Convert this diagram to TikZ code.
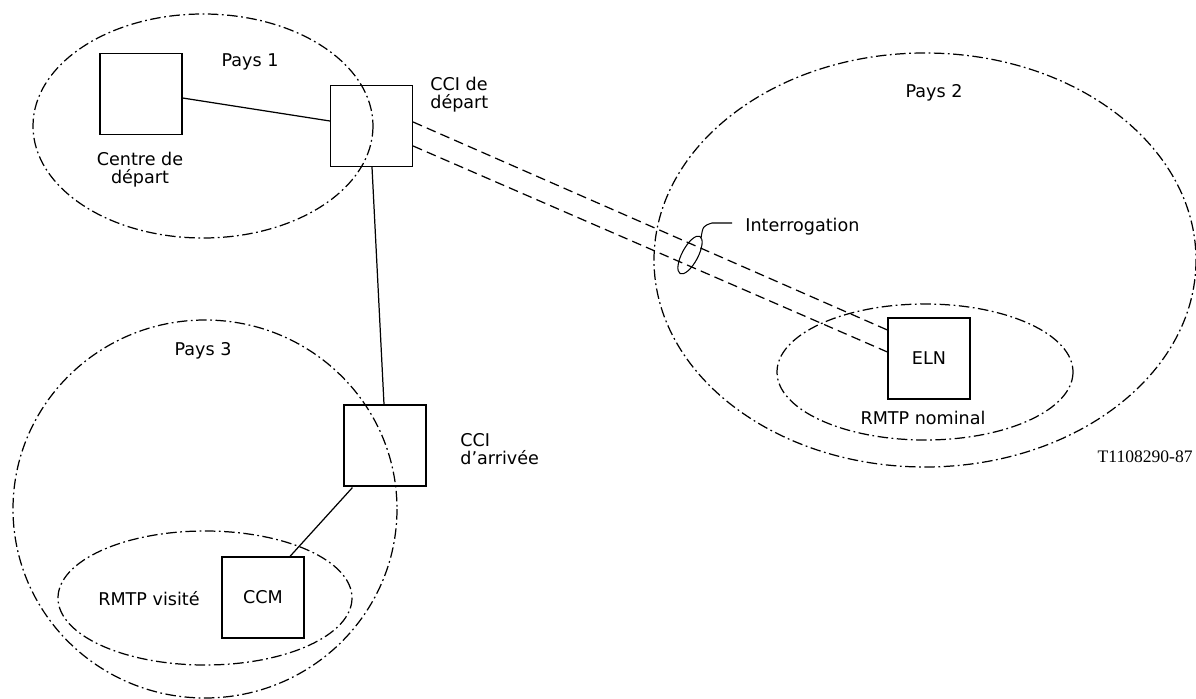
\documentclass[tikz,border=0pt]{standalone}
\usepackage{fontspec}
\setmainfont{DejaVu Sans}
\newfontfamily\serifref{Liberation Serif}
\usetikzlibrary{calc}
\begin{document}
\begin{tikzpicture}[x=0.02cm,y=-0.02cm,
  every node/.style={font=\fontsize{10}{10.4}\selectfont, inner sep=0pt},
  box/.style={draw, line width=0.7pt, minimum width=1.64cm, minimum height=1.62cm},
  region/.style={draw, line width=0.7pt, dash pattern=on 6pt off 2pt on 1pt off 2pt},
  link/.style={draw, line width=0.7pt},
  query/.style={draw, line width=0.7pt, dash pattern=on 5.5pt off 3pt},
  lbl/.style={align=center}]
\useasboundingbox (0,0) rectangle (1196,699);

% regions
\draw[region] (203,126) ellipse (170 and 112);
\draw[region] (925,260) ellipse (271 and 207);
\draw[region] (925,372) ellipse (148 and 68);
\draw[region] (205,509) ellipse (192 and 189);
\draw[region] (205,598) ellipse (147 and 67);

% boxes
\node[box] (centre) at (141,94) {};
\node[box] (ccid) at (371.5,126) {};
\node[box] (ccia) at (385,445.5) {};
\node[box] (ccm) at (263,597.5) {CCM};
\node[box] (eln) at (929,358.5) {ELN};

% connectors
\draw[link] ($(centre.east)+(0,4)$) -- ($(ccid.west)+(0,-5)$);
\draw[link] ($(ccid.south)+(0.5,0)$) -- ($(ccia.north)+(-1,0)$);
\draw[link] ($(ccia.south west)+(9,1)$) -- ($(ccm.north)+(27,0)$);
\draw[query] ($(ccid.east)+(0,-4)$) -- ($(eln.west)+(0,-28.5)$);
\draw[query] ($(ccid.east)+(0,20)$) -- ($(eln.west)+(0,-6.5)$);

% interrogation marker
\draw[line width=0.6pt, rotate around={62:(690,255)}] (690,255) ellipse (21 and 8);
\coordinate (ia) at (701,238);
\coordinate (ib) at (732,223);
\draw[line width=0.6pt] (ia) .. controls (703,226) .. (712,223) -- (ib);
\node[anchor=west] (interr) at (745,227) {Interrogation};

% labels
\node (p1) at (250,62) {Pays 1};
\node (p2) at (934,93) {Pays 2};
\node (p3) at (203,351) {Pays 3};
\node[lbl] (lcentre) at (140,170) {Centre de\\départ};
\node[anchor=west, align=left] (lccid) at (430,95) {CCI de\\départ};
\node[anchor=west, align=left] (lccia) at (460,449) {CCI\\d’arrivée};
\node (lnom) at (923,418) {RMTP nominal};
\node (lvis) at (149,599) {RMTP visité};
\node[anchor=east, font=\serifref\fontsize{10}{12}\selectfont] (ref) at (1193,457) {T1108290-87};
\end{tikzpicture}
\end{document}
